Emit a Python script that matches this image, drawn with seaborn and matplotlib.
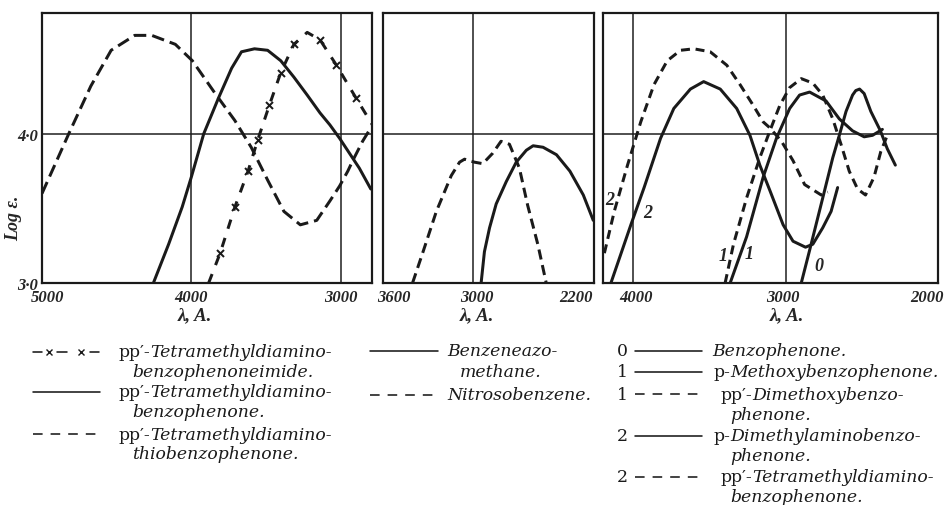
import numpy as np
import pandas as pd
import matplotlib
matplotlib.use("Agg")
import matplotlib.pyplot as plt
import matplotlib.transforms as mtransforms
from matplotlib.lines import Line2D
import seaborn as sns

# ---------------- data (wavelength in A, log epsilon) ----------------
# Panel 1
thio_wl = [5000, 4821, 4673, 4537, 4379, 4265, 4107, 3993, 3840, 3709, 3599, 3489,
           3380, 3270, 3160, 3072, 3007, 2952, 2919, 2853, 2798]
thio_le = [3.60, 4.00, 4.32, 4.56, 4.66, 4.66, 4.60, 4.49, 4.27, 4.09, 3.91, 3.69,
           3.48, 3.39, 3.42, 3.55, 3.65, 3.75, 3.82, 3.95, 4.04]
ketone_wl = [4254, 4152, 4061, 4000, 3917, 3818, 3730, 3664, 3577, 3489, 3401, 3313,
             3224, 3138, 3072, 3007, 2941, 2875, 2798]
ketone_le = [3.00, 3.26, 3.51, 3.71, 4.00, 4.24, 4.44, 4.55, 4.57, 4.56, 4.49, 4.38,
             4.26, 4.14, 4.06, 3.97, 3.87, 3.77, 3.63]
imide_wl = [3884, 3807, 3708, 3620, 3555, 3478, 3401, 3313, 3224, 3138, 3028, 2897, 2787]
imide_le = [3.00, 3.20, 3.51, 3.75, 3.96, 4.19, 4.41, 4.60, 4.68, 4.63, 4.46, 4.24, 4.06]
imide_marks = [1, 2, 3, 4, 5, 6, 7, 9, 10, 11]

# Panel 2
azo_wl = [2949, 2927, 2893, 2849, 2782, 2716, 2649, 2604, 2538, 2449, 2360, 2271, 2205]
azo_le = [3.00, 3.21, 3.37, 3.53, 3.68, 3.81, 3.89, 3.92, 3.91, 3.86, 3.75, 3.59, 3.42]
nitroso_wl = [3404, 3334, 3246, 3147, 3092, 3059, 2993, 2938, 2872, 2817, 2761, 2695,
              2640, 2573, 2517]
nitroso_le = [3.00, 3.21, 3.48, 3.72, 3.81, 3.83, 3.81, 3.80, 3.87, 3.95, 3.93, 3.77,
              3.52, 3.26, 3.00]

# Panel 3
c0_wl = [2898, 2843, 2757, 2691, 2648, 2604, 2561, 2540, 2515, 2485, 2441, 2378, 2333, 2280]
c0_le = [3.00, 3.22, 3.57, 3.84, 3.99, 4.15, 4.26, 4.29, 4.30, 4.27, 4.15, 4.02, 3.90, 3.79]
c1_wl = [3365, 3257, 3148, 3061, 2974, 2909, 2843, 2735, 2648, 2561, 2485, 2430, 2365]
c1_le = [3.00, 3.31, 3.71, 3.97, 4.17, 4.26, 4.28, 4.22, 4.10, 4.02, 3.98, 3.99, 4.03]
c1d_wl = [3398, 3343, 3257, 3170, 3104, 3039, 2974, 2898, 2822, 2757, 2691, 2637,
          2583, 2528, 2476, 2420, 2376, 2333]
c1d_le = [3.00, 3.26, 3.57, 3.84, 4.02, 4.19, 4.31, 4.37, 4.34, 4.26, 4.10, 3.93,
          3.75, 3.63, 3.59, 3.71, 3.88, 3.99]
c2_wl = [4148, 4017, 3930, 3822, 3735, 3626, 3539, 3430, 3322, 3235, 3170, 3104,
         3017, 2952, 2870, 2822, 2757, 2702, 2659]
c2_le = [3.00, 3.39, 3.64, 3.97, 4.17, 4.30, 4.35, 4.30, 4.17, 3.99, 3.79, 3.62,
         3.39, 3.28, 3.24, 3.26, 3.37, 3.48, 3.64]
c2d_wl = [4191, 4126, 4039, 3952, 3865, 3778, 3691, 3604, 3496, 3387, 3300, 3213,
          3148, 3104, 3028, 2952, 2876, 2767, 2724]
c2d_le = [3.20, 3.48, 3.79, 4.08, 4.33, 4.49, 4.56, 4.57, 4.55, 4.46, 4.33, 4.19,
          4.08, 4.04, 3.95, 3.82, 3.66, 3.59, 3.61]

p1_ticks = [5000, 4000, 3000]
p2_ticks = [3600, 3000, 2200]
p3_ticks = [4000, 3000, 2000]
y_ticks = [3.0, 4.0]
y_labels = ["3·0", "4·0"]

# ---------------- style ----------------
sns.set_theme(style="white")
plt.rcParams['font.family'] = ['DejaVu Serif']

W, H = 949, 506
fig = plt.figure(figsize=(W / 100, H / 100), dpi=100)
TOP, BOT = 14, 284
tickfont = dict(family='Liberation Serif', style='italic', weight='bold', size=12)

px = 0.72  # points per pixel


def panel(l, r, xlim, ticks, grid_x, offsets, lab_frac):
    ax = fig.add_axes([l / W, 1 - BOT / H, (r - l) / W, (BOT - TOP) / H])
    ax.set_xlim(*xlim)
    ax.set_ylim(3.0, 4.81)
    for v in grid_x:
        ax.axvline(v, color='k', lw=1.5 * px, zorder=1)
    ax.axhline(4.0, color='k', lw=1.5 * px, zorder=1)
    for s in ax.spines.values():
        s.set_linewidth(2.2 * px)
        s.set_color('k')
    ax.grid(False)
    return ax, ticks, offsets, lab_frac


def finish(ax, ticks, offsets, lab_frac):
    ax.set_xticks(ticks)
    ax.set_xticklabels([str(t) for t in ticks], fontdict=tickfont)
    ax.tick_params(length=0, pad=4)
    for lab, dx in zip(ax.get_xticklabels(), offsets):
        lab.set_transform(lab.get_transform() +
                          mtransforms.ScaledTranslation(dx / 100, 0, fig.dpi_scale_trans))
    ax.set_yticks([])
    ax.set_xlabel("λ, A.", fontdict=dict(family='Liberation Serif', style='italic',
                                         weight='bold', size=13.5))
    ax.xaxis.set_label_coords(lab_frac, -0.085)
    ax.set_ylabel("")
    if ax.get_legend():
        ax.get_legend().remove()


P1 = panel(42, 372, (5000, 2790), p1_ticks, [4000, 3000], [6, 0, 0], 0.464)
P2 = panel(383, 594, (3600, 2200), p2_ticks, [3000], [11, 3, -18], 0.445)
P3 = panel(603, 938, (4200, 2000), p3_ticks, [4000, 3000], [3, -3, -11], 0.549)
ax1, ax2, ax3 = P1[0], P2[0], P3[0]

LW = 3.0 * px
dash_long = (0, (4.2, 2.0))
dash_mid = (0, (3.4, 1.9))
dash_short = (0, (3.0, 1.9))


def curve(ax, wl, le, ls='-', lw=LW, **kw):
    df = pd.DataFrame({"wl": wl, "le": le})
    sns.lineplot(data=df, x="wl", y="le", ax=ax, color='k', lw=lw, linestyle=ls,
                 sort=False, estimator=None, zorder=3, **kw)


curve(ax1, thio_wl, thio_le, dash_long)
curve(ax1, ketone_wl, ketone_le)
curve(ax1, imide_wl, imide_le, (0, (3.2, 3.2)), marker='x', markevery=imide_marks,
      markersize=7 * px, markeredgewidth=2.0 * px, markeredgecolor='k')

curve(ax2, azo_wl, azo_le)
curve(ax2, nitroso_wl, nitroso_le, dash_mid)

curve(ax3, c0_wl, c0_le)
curve(ax3, c1_wl, c1_le)
curve(ax3, c1d_wl, c1d_le, dash_short)
curve(ax3, c2_wl, c2_le)
curve(ax3, c2d_wl, c2d_le, dash_short)

for P in (P1, P2, P3):
    finish(*P)

ax1.set_yticks(y_ticks)
ax1.set_yticklabels(y_labels, fontdict=tickfont)
ax1.tick_params(axis='y', length=0, pad=3)

lblfont = dict(family='Liberation Serif', style='italic', weight='bold', size=13)
for txt, (xf, yf) in [("2", (0.021, 0.311)), ("2", (0.134, 0.262)),
                      ("1", (0.358, 0.103)), ("1", (0.436, 0.111)),
                      ("0", (0.645, 0.066))]:
    ax3.text(xf, yf, txt, transform=ax3.transAxes, ha='center', va='center',
             fontdict=lblfont, zorder=4)

fig.text(14 / W, 1 - 218 / H, "Log ε.", rotation=90, ha='center', va='center',
         fontdict=dict(family='Liberation Serif', style='italic', weight='bold', size=13))

# ---------------- legend (drawn as figure text) ----------------
renderer = fig.canvas.get_renderer()


def fit_size(s, target, style='italic'):
    t = fig.text(0, 0, s, fontsize=10, family='DejaVu Serif', style=style)
    w = t.get_window_extent(renderer).width
    t.remove()
    return 10 * target / w


S1 = fit_size("Tetramethyldiamino-", 182)


def T(x, y, s, size=S1, style='italic', ha='left'):
    fig.text(x / W, 1 - y / H, s, fontsize=size, family='DejaVu Serif', style=style,
             ha=ha, va='center', color='k')


def seg(x0, x1, y, ls='-', lw=1.6):
    fig.add_artist(Line2D([x0 / W, x1 / W], [1 - y / H, 1 - y / H], color='k',
                          lw=lw * px, linestyle=ls, transform=fig.transFigure))


legdash = (0, (6, 5))
# column 1
for a, b in [(33, 42), (57, 67), (90, 99)]:
    seg(a, b, 353)
for xm in (49, 81):
    fig.add_artist(Line2D([xm / W], [1 - 353 / H], marker='x', color='k', markersize=4,
                          mew=1.0, transform=fig.transFigure))
T(150, 353, "pp′-", style='normal', ha='right'); T(150, 353, "Tetramethyldiamino-")
T(132, 373, "benzophenoneimide.")
seg(33, 100, 393)
T(150, 393, "pp′-", style='normal', ha='right'); T(150, 393, "Tetramethyldiamino-")
T(132, 413, "benzophenone.")
seg(33, 100, 435, legdash)
T(150, 435, "pp′-", style='normal', ha='right'); T(150, 435, "Tetramethyldiamino-")
T(132, 455, "thiobenzophenone.")
# column 2
seg(370, 438, 352)
T(447, 352, "Benzeneazo-")
T(460, 373, "methane.")
seg(370, 438, 396, legdash)
T(447, 396, "Nitrosobenzene.")
# column 3
for y, num, ls in [(352, "0", '-'), (373, "1", '-'), (395, "1", legdash),
                   (437, "2", '-'), (478, "2", legdash)]:
    T(622, y, num, style='normal', ha='center')
    seg(635, 702, y, ls)
T(712, 352, "Benzophenone.")
T(730, 373, "p-", style='normal', ha='right'); T(730, 373, "Methoxybenzophenone.")
T(752, 395, "pp′-", style='normal', ha='right'); T(752, 395, "Dimethoxybenzo-")
T(730, 415, "phenone.")
T(730, 437, "p-", style='normal', ha='right'); T(730, 437, "Dimethylaminobenzo-")
T(730, 457, "phenone.")
T(752, 478, "pp′-", style='normal', ha='right'); T(752, 478, "Tetramethyldiamino-")
T(730, 498, "benzophenone.")

fig.savefig("out.png", dpi=100, facecolor='white')
